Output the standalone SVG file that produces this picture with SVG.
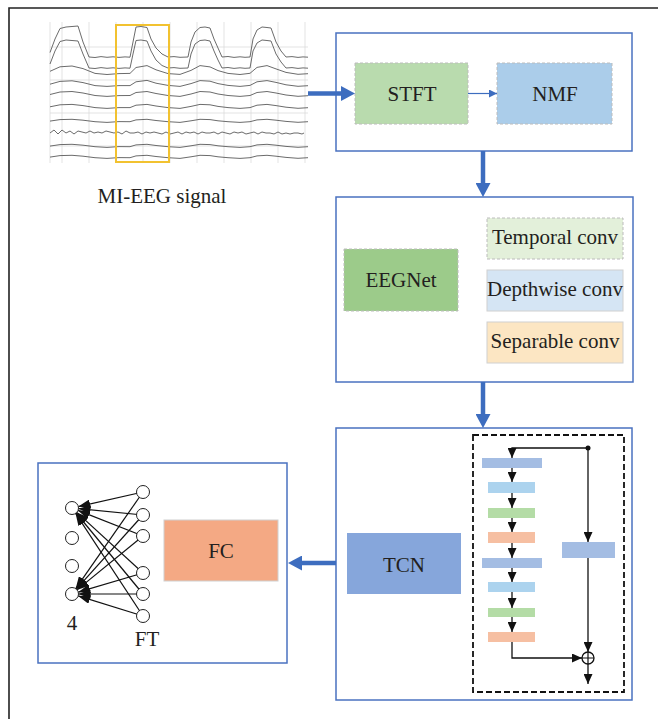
<svg xmlns="http://www.w3.org/2000/svg" width="658" height="719" viewBox="0 0 658 719">
<style>
.t{font-family:"Liberation Serif","DejaVu Serif",serif;font-size:21px;fill:#231f20;text-anchor:middle}
.frame{fill:none;stroke:#222;stroke-width:1.6}
.box{fill:#fff;stroke:#4a72c0;stroke-width:1.5}
.grid{stroke:#dcdcdc;stroke-width:0.8}
.tr{fill:none;stroke:#5a5a5a;stroke-width:0.9;stroke-linejoin:round}
.thick{stroke:#3d6dbf;stroke-width:4.5;fill:none}
.thin{stroke:#3d6dbf;stroke-width:1.2;fill:none}
.k{stroke:#111;stroke-width:1.3;fill:none}
.nn{stroke:#111;stroke-width:1.2;fill:none}
.dash{stroke:#bcbcbc;stroke-width:1;stroke-dasharray:3 2}
.solid{stroke:#d0d0d0;stroke-width:1}
.neuron{fill:#fff;stroke:#222;stroke-width:1}
</style>
<defs>
<marker id="bh" markerUnits="userSpaceOnUse" markerWidth="14" markerHeight="15" refX="0" refY="7.5" orient="auto"><path d="M0,0 L14,7.5 L0,15 z" fill="#3d6dbf"/></marker>
<marker id="sh" markerUnits="userSpaceOnUse" markerWidth="8" markerHeight="8" refX="8" refY="4" orient="auto"><path d="M0,0 L8,4 L0,8 z" fill="#3d6dbf"/></marker>
<marker id="kh" markerUnits="userSpaceOnUse" markerWidth="10" markerHeight="9" refX="10" refY="4.5" orient="auto"><path d="M0,0 L10,4.5 L0,9 z" fill="#111"/></marker>
<marker id="nh" markerUnits="userSpaceOnUse" markerWidth="12" markerHeight="9" refX="12" refY="4.5" orient="auto"><path d="M0,0 L12,4.5 L0,9 z" fill="#111"/></marker>
</defs>

<!-- outer frame -->
<path class="frame" d="M9,719 V8 H658"/>

<!-- EEG signal -->
<g id="eeg">
<g class="grid">
<line x1="50" y1="22" x2="50" y2="163"/><line x1="62" y1="22" x2="62" y2="163"/><line x1="89" y1="22" x2="89" y2="163"/><line x1="116" y1="22" x2="116" y2="163"/><line x1="143" y1="22" x2="143" y2="163"/><line x1="170" y1="22" x2="170" y2="163"/><line x1="197" y1="22" x2="197" y2="163"/><line x1="224" y1="22" x2="224" y2="163"/><line x1="251" y1="22" x2="251" y2="163"/><line x1="278" y1="22" x2="278" y2="163"/><line x1="305" y1="22" x2="305" y2="163"/>
<line x1="50" y1="47" x2="308" y2="47"/><line x1="50" y1="80" x2="308" y2="80"/><line x1="50" y1="113" x2="308" y2="113"/><line x1="50" y1="146" x2="308" y2="146"/>
</g>
<polyline class="tr" points="50,52.5 55,39 60,28.5 66,27 72,26.5 78,26 83,42 89,57 95,57.5 101,56.6 107,57.3 113,56.8 119,57.4 125,56.9 130,57.2 133,42 136,27 141,26.5 147,27.5 151,39 156,48 162,54 168,57 174,56.6 180,57.3 188,57 191,42 195,32 200,27.5 205,27 210,28 214,39 218,48 222,57 228,56.5 234,57.4 240,56.8 245,57.3 250,57 253,39 257,30 262,27 267,27.5 271,28 276,42 281,51 286,57 292,56.6 298,57.4 303,56.9 308,57.2"/>
<polyline class="tr" points="50,64 55,51 60,41.5 66,40 72,40.5 78,41 83,54 89,68 95,68.5 101,67.6 107,68.3 113,67.8 119,68.4 125,67.9 130,68.2 133,54 136,40.5 141,40 147,41 151,51 156,60 162,65.5 168,68 174,67.6 180,68.3 188,68 191,54 195,44 200,40.5 205,40 210,41 214,51 218,60 222,68 228,67.5 234,68.4 240,67.8 245,68.3 250,68 253,51 257,43 262,40 267,40.5 271,41 276,54 281,62 286,68 292,67.6 298,68.4 303,67.9 308,68.2"/>
<polyline class="tr" points="50,71.3 60,66.8 72,66 83,68.6 95,73.4 107,74.5 119,73.6 130,73.4 136,67.5 147,65.6 156,69.8 168,73.6 180,74.4 191,70.4 200,65.6 210,66.9 218,70.6 228,73.4 240,74.5 250,73.3 257,67.4 267,65.6 276,68.9 286,72.4 298,74.3 308,73.7"/>
<polyline class="tr" points="50,84.2 60,81.4 72,80.8 83,82.6 95,85.6 107,86.4 119,85.6 130,85.6 136,81.8 147,80.4 156,83.2 168,85.4 180,86.4 191,83.6 200,80.6 210,81.2 218,83.6 228,85.4 240,86.4 250,85.4 257,81.8 267,80.6 276,82.4 286,84.8 298,86.3 308,85.7"/>
<polyline class="tr" points="50,94.5 60,92 72,91.5 83,93 95,95.5 107,96.4 119,95.6 130,95.5 136,92.5 147,91.5 156,93.5 168,95.5 180,96.4 191,94 200,91.5 210,92 218,94 228,95.5 240,96.4 250,95.5 257,92.5 267,91.5 276,93 286,95 298,96.3 308,95.7"/>
<polyline class="tr" points="50,106.8 60,104.8 72,104.4 83,105.6 95,107.6 107,108.4 119,107.6 130,107.6 136,105.2 147,104.4 156,106 168,107.6 180,108.4 191,106.4 200,104.4 210,104.8 218,106.4 228,107.6 240,108.4 250,107.6 257,105.2 267,104.4 276,105.6 286,107.2 298,108.3 308,107.7"/>
<polyline class="tr" points="50,121.1 60,119.6 72,119.3 83,120.2 95,121.7 107,122.4 119,121.6 130,121.7 136,119.9 147,119.3 156,120.5 168,121.7 180,122.4 191,120.8 200,119.3 210,119.6 218,120.8 228,121.7 240,122.4 250,121.7 257,119.9 267,119.3 276,120.2 286,121.4 298,122.3 308,121.7"/>
<path class="tr" d="M50,133 l4,-3 l4,4 l4,-4 l4,3 l4,-2 l4,3 l4,-3 l4,1 l4,1 l4,-2 l4,2 l4,-1 l4,1 l4,-2 l4,1 l4,1 l4,-1 l4,2 l4,-3 l4,2 l4,0 l4,-1 l4,2 l4,-2 l4,1 l4,-1 l4,1 l4,1 l4,-2 l4,2 l4,-1 l4,-1 l4,2 l4,-2 l4,1 l4,-1 l4,2 l4,-2 l4,1 l4,0 l4,-1 l4,2 l4,-2 l4,1 l4,1 l4,-2 l4,1 l4,-1 l4,2 l4,-1 l4,-1 l4,2 l4,-2 l4,1 l4,0 l4,1 l4,-2 l4,2 l4,-1 l4,1 l4,-1 l4,0 l4,1 l2,-1"/>
<polyline class="tr" points="50,146.1 60,144.6 72,144.3 83,145.2 95,146.7 107,147.4 119,146.6 130,146.7 136,144.9 147,144.3 156,145.5 168,146.7 180,147.4 191,145.8 200,144.3 210,144.6 218,145.8 228,146.7 240,147.4 250,146.7 257,144.9 267,144.3 276,145.2 286,146.4 298,147.3 308,146.7"/>
<polyline class="tr" points="50,157.1 60,155.6 72,155.3 83,156.2 95,157.7 107,158.4 119,157.6 130,157.7 136,155.9 147,155.3 156,156.5 168,157.7 180,158.4 191,156.8 200,155.3 210,155.6 218,156.8 228,157.7 240,158.4 250,157.7 257,155.9 267,155.3 276,156.2 286,157.4 298,158.3 308,157.7"/>
<rect x="116" y="25" width="53" height="137" fill="none" stroke="#f2c230" stroke-width="2"/>
<text class="t" font-family="Liberation Serif, serif" x="162" y="203">MI-EEG signal</text>
</g>

<!-- Box 1 -->
<g id="box1">
<rect class="box" x="336" y="33" width="296" height="118"/>
</g>
<g id="stft">
<rect x="355" y="63" width="113" height="61" fill="#b9dbae" class="dash"/>
<text class="t" font-family="Liberation Serif, serif" x="412" y="100.5">STFT</text>
</g>
<g id="nmf">
<rect x="497" y="63" width="115" height="61" fill="#abcdea" class="dash"/>
<text class="t" font-family="Liberation Serif, serif" x="555" y="100.5">NMF</text>
</g>

<!-- Box 2 -->
<g id="box2">
<rect class="box" x="336" y="197" width="297" height="185"/>
</g>
<g id="eegnet">
<rect x="344" y="249" width="114" height="62" fill="#9ccb8a" class="dash"/>
<text class="t" font-family="Liberation Serif, serif" x="401" y="287">EEGNet</text>
</g>
<g id="temporal">
<rect x="487" y="218" width="136" height="41" fill="#e3f0da" class="dash"/>
<text class="t" font-family="Liberation Serif, serif" x="555" y="244">Temporal conv</text>
</g>
<g id="depthwise">
<rect x="487" y="270" width="136" height="41" fill="#d5e5f4" class="solid"/>
<text class="t" font-family="Liberation Serif, serif" x="555" y="296">Depthwise conv</text>
</g>
<g id="separable">
<rect x="487" y="322" width="136" height="41" fill="#fce6c3" class="solid"/>
<text class="t" font-family="Liberation Serif, serif" x="555" y="348">Separable conv</text>
</g>

<!-- Box 3 -->
<g id="box3">
<rect class="box" x="336" y="428" width="296" height="272"/>
<rect x="473" y="435" width="151" height="257" fill="none" stroke="#111" stroke-width="1.8" stroke-dasharray="6 3"/>
</g>
<g id="tcn">
<rect x="347" y="533" width="114" height="61" fill="#86a6db"/>
<text class="t" font-family="Liberation Serif, serif" x="404" y="572">TCN</text>
</g>
<g id="tcn-blocks">
<rect x="482" y="458" width="60" height="10" fill="#a4bde3"/>
<rect x="488" y="482" width="47" height="11" fill="#acd3ee"/>
<rect x="488" y="508" width="47" height="10" fill="#b4dca6"/>
<rect x="488" y="532" width="47" height="11" fill="#f6bfa2"/>
<rect x="482" y="558" width="60" height="10" fill="#a4bde3"/>
<rect x="488" y="582" width="47" height="10" fill="#acd3ee"/>
<rect x="488" y="608" width="47" height="9" fill="#b4dca6"/>
<rect x="488" y="632" width="47" height="10" fill="#f6bfa2"/>
<rect x="562" y="542" width="53" height="16" fill="#a4bde3"/>
</g>
<g id="add">
<circle cx="588" cy="658" r="6" fill="#fff" stroke="#111" stroke-width="1.3"/>
<path d="M582,658 H594 M588,652 V664" stroke="#111" stroke-width="1.2"/>
<circle cx="588" cy="448" r="2.5" fill="#111"/>
</g>

<!-- Box 4 -->
<g id="box4">
<rect class="box" x="38" y="463" width="249" height="200"/>
</g>
<g id="fc">
<rect x="164" y="520" width="114" height="61" fill="#f4a984" class="solid"/>
<text class="t" font-family="Liberation Serif, serif" x="221" y="558">FC</text>
</g>

<!-- connectors -->
<g id="connectors">
<line class="thick" x1="308" y1="93.5" x2="341" y2="93.5" marker-end="url(#bh)"/>
<line class="thin" x1="468" y1="93.5" x2="497" y2="93.5" marker-end="url(#sh)"/>
<line class="thick" x1="483" y1="151" x2="483" y2="183" marker-end="url(#bh)"/>
<line class="thick" x1="483" y1="382" x2="483" y2="414" marker-end="url(#bh)"/>
<line class="thick" x1="336" y1="563" x2="302" y2="563" marker-end="url(#bh)"/>
<path class="k" d="M588,448 H512 V458" marker-end="url(#kh)"/>
<line class="k" x1="512" y1="468" x2="512" y2="482" marker-end="url(#kh)"/>
<line class="k" x1="512" y1="493" x2="512" y2="508" marker-end="url(#kh)"/>
<line class="k" x1="512" y1="518" x2="512" y2="532" marker-end="url(#kh)"/>
<line class="k" x1="512" y1="543" x2="512" y2="558" marker-end="url(#kh)"/>
<line class="k" x1="512" y1="568" x2="512" y2="582" marker-end="url(#kh)"/>
<line class="k" x1="512" y1="592" x2="512" y2="608" marker-end="url(#kh)"/>
<line class="k" x1="512" y1="617" x2="512" y2="632" marker-end="url(#kh)"/>
<path class="k" d="M512,642 V658 H582" marker-end="url(#kh)"/>
<line class="k" x1="588" y1="448" x2="588" y2="542" marker-end="url(#kh)"/>
<line class="k" x1="588" y1="558" x2="588" y2="652" marker-end="url(#kh)"/>
<line class="k" x1="588" y1="664" x2="588" y2="684" marker-end="url(#kh)"/>
<g class="nn">
<line x1="143" y1="492" x2="78.3" y2="506.6" marker-end="url(#nh)"/>
<line x1="143" y1="515" x2="78.5" y2="508.6" marker-end="url(#nh)"/>
<line x1="143" y1="536" x2="78" y2="510.4" marker-end="url(#nh)"/>
<line x1="143" y1="573" x2="76.8" y2="512.4" marker-end="url(#nh)"/>
<line x1="143" y1="594" x2="76.1" y2="513" marker-end="url(#nh)"/>
<line x1="143" y1="616" x2="75.6" y2="513.4" marker-end="url(#nh)"/>
<line x1="143" y1="492" x2="75.7" y2="588.7" marker-end="url(#nh)"/>
<line x1="143" y1="515" x2="76.3" y2="589.2" marker-end="url(#nh)"/>
<line x1="143" y1="536" x2="77" y2="589.9" marker-end="url(#nh)"/>
<line x1="143" y1="573" x2="78.2" y2="592.2" marker-end="url(#nh)"/>
<line x1="143" y1="594" x2="78.5" y2="594" marker-end="url(#nh)"/>
<line x1="143" y1="616" x2="78.2" y2="595.9" marker-end="url(#nh)"/>
</g>
</g>

<g id="output-layer">
<circle class="neuron" cx="72" cy="508" r="6.5"/>
<circle class="neuron" cx="72" cy="538" r="6.5"/>
<circle class="neuron" cx="72" cy="566" r="6.5"/>
<circle class="neuron" cx="72" cy="594" r="6.5"/>
<text class="t" font-family="Liberation Serif, serif" x="72" y="630">4</text>
</g>
<g id="ft-layer">
<circle class="neuron" cx="143" cy="492" r="6.5"/>
<circle class="neuron" cx="143" cy="515" r="6.5"/>
<circle class="neuron" cx="143" cy="536" r="6.5"/>
<circle class="neuron" cx="143" cy="573" r="6.5"/>
<circle class="neuron" cx="143" cy="594" r="6.5"/>
<circle class="neuron" cx="143" cy="616" r="6.5"/>
<text class="t" font-family="Liberation Serif, serif" x="147" y="646">FT</text>
</g>
</svg>
